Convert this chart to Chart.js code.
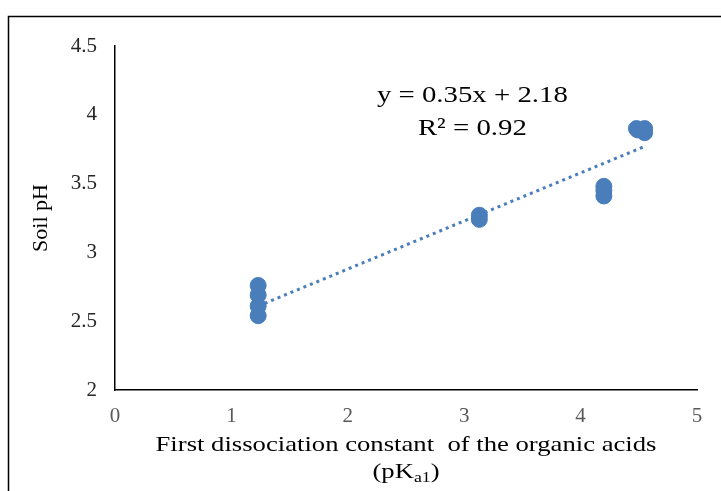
<!DOCTYPE html>
<html>
<head>
<meta charset="utf-8">
<script src="https://cdn.jsdelivr.net/npm/chart.js@4"></script>
<style>
  html, body { margin: 0; padding: 0; background: #fff; }
  #wrap { width: 721px; height: 491px; position: relative; }
</style>
</head>
<body>
<div id="wrap"><canvas id="chartPh" width="721" height="491"></canvas></div>
<script>
// pKa1 of each acid and the measured soil pH
const pKa1 = [1.23, 1.23, 1.23, 1.23, 3.13, 3.13, 4.2, 4.2, 4.2, 4.48, 4.49, 4.55, 4.55];
const soilPH = [2.76, 2.69, 2.61, 2.54, 3.27, 3.24, 3.48, 3.45, 3.41, 3.9, 3.89, 3.9, 3.87];

// linear trend y = 0.35x + 2.18 over the data range
const trendX = [1.23, 4.55];
const trendY = [2.61, 3.77];

const xTicks = [0, 1, 2, 3, 4, 5];
const yTicks = [2, 2.5, 3, 3.5, 4, 4.5];

const ecuacion = 'y = 0.35x + 2.18';
const r2 = 'R² = 0.92';
const tituloX = 'First dissociation constant  of the organic acids';

const serif = '"Liberation Serif", "Times New Roman", serif';
const azul = '#4a7ebb';

// texto ensanchado horizontalmente, centrado en (x, y)
function textoAncho(ctx, partes, x, y, escala) {
    let total = 0;
    partes.forEach(p => { ctx.font = p.font; total += ctx.measureText(p.t).width; });
    ctx.save();
    ctx.translate(x, y);
    ctx.scale(escala, 1);
    ctx.textAlign = 'left';
    ctx.textBaseline = 'middle';
    let px = -total / 2;
    partes.forEach(p => {
        ctx.font = p.font;
        ctx.fillText(p.t, px, p.dy || 0);
        px += ctx.measureText(p.t).width;
    });
    ctx.restore();
}

// marco, ecuación y título del eje X con subíndice
const extras = {
    id: 'extras',
    afterDraw(chart) {
        const ctx = chart.ctx;
        const { x, y } = chart.scales;
        ctx.save();

        ctx.strokeStyle = '#000';
        ctx.lineWidth = 1.5;
        ctx.beginPath();
        ctx.moveTo(8.5, 491);
        ctx.lineTo(8.5, 16.5);
        ctx.lineTo(721, 16.5);
        ctx.stroke();

        ctx.fillStyle = '#000';
        const fEq = '24px ' + serif;
        textoAncho(ctx, [{ t: ecuacion, font: fEq }], x.getPixelForValue(3.07), y.getPixelForValue(4.14), 1.2);
        textoAncho(ctx, [{ t: r2, font: fEq }], x.getPixelForValue(3.07), y.getPixelForValue(3.9), 1.2);

        const cx = (x.left + x.right) / 2;
        const fT = '21px ' + serif;
        textoAncho(ctx, [{ t: tituloX, font: fT }], cx, 445, 1.27);
        textoAncho(ctx, [
            { t: '(pK', font: fT },
            { t: 'a1', font: '14px ' + serif, dy: 6 },
            { t: ')', font: fT }
        ], cx, 472, 1.27);

        ctx.restore();
    }
};

new Chart(document.getElementById('chartPh').getContext('2d'), {
    type: 'scatter',
    data: {
        datasets: [
            {
                label: 'Soil pH',
                data: pKa1.map((v, i) => ({ x: v, y: soilPH[i] })),
                backgroundColor: azul,
                borderColor: azul,
                pointRadius: 8,
                pointHoverRadius: 8,
                order: 1
            },
            {
                label: 'Lineal',
                type: 'line',
                data: trendX.map((v, i) => ({ x: v, y: trendY[i] })),
                borderColor: azul,
                borderWidth: 3,
                borderDash: [3, 4],
                pointRadius: 0,
                fill: false,
                order: 2
            }
        ]
    },
    options: {
        responsive: false,
        animation: false,
        layout: { padding: { left: 0, right: 24, top: 46, bottom: 0 } },
        plugins: {
            legend: { display: false },
            tooltip: { enabled: false }
        },
        scales: {
            x: {
                type: 'linear',
                min: 0,
                max: 5,
                afterBuildTicks: s => { s.ticks = xTicks.map(v => ({ value: v })); },
                afterFit: s => { s.height = 101; },
                grid: { display: false, drawTicks: false },
                border: { display: true, color: '#000', width: 1.5 },
                ticks: {
                    color: '#595959',
                    padding: 14,
                    callback: v => String(v),
                    font: { family: serif, size: 21 }
                }
            },
            y: {
                min: 2,
                max: 4.5,
                afterBuildTicks: s => { s.ticks = yTicks.map(v => ({ value: v })); },
                afterFit: s => { s.width = 115; },
                grid: { display: false, drawTicks: false },
                border: { display: true, color: '#000', width: 1.5 },
                title: {
                    display: true,
                    text: 'Soil pH',
                    color: '#000',
                    padding: { top: 28, bottom: 0 },
                    font: { family: serif, size: 22, weight: 'normal' }
                },
                ticks: {
                    color: '#262626',
                    padding: 18,
                    callback: v => String(v),
                    font: { family: serif, size: 21 }
                }
            }
        }
    },
    plugins: [extras]
});
</script>
</body>
</html>
